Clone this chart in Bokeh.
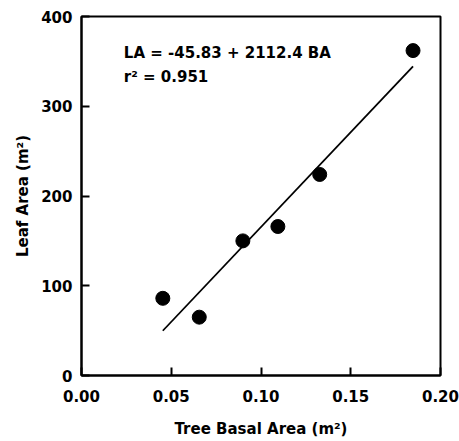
from bokeh.plotting import figure
from bokeh.models import Range1d, FixedTicker, Label
from bokeh.embed import file_html
from bokeh.resources import INLINE

# Data
basal_area = [0.0453, 0.0656, 0.0899, 0.1094, 0.1327, 0.1847]
leaf_area = [86, 65, 150, 166, 224, 362]

intercept = -45.83
slope = 2112.4
equation_text = "LA = -45.83 + 2112.4 BA"
r2_text = "r\u00b2 = 0.951"

x_ticks = [0.0, 0.05, 0.10, 0.15, 0.20]
x_tick_labels = ["0.00", "0.05", "0.10", "0.15", "0.20"]
y_ticks = [0, 100, 200, 300, 400]
y_tick_labels = ["0", "100", "200", "300", "400"]

FONT = "DejaVu Sans"

W, H = 459, 441
FL, FT, FW, FH = 81, 16, 359, 359
p = figure(width=W, height=H, output_backend="svg", toolbar_location=None,
           x_range=Range1d(0, 0.2), y_range=Range1d(0, 400),
           min_border_left=FL, min_border_right=W - FL - FW,
           min_border_top=FT, min_border_bottom=H - FT - FH)
p.xgrid.visible = False
p.ygrid.visible = False
p.outline_line_color = "black"
p.outline_line_width = 2

for ax in (p.xaxis[0], p.yaxis[0]):
    ax.axis_line_width = 2
    ax.major_tick_line_width = 2
    ax.major_tick_in = 8
    ax.major_tick_out = 0
    ax.minor_tick_line_color = None
    ax.major_label_text_font = FONT
    ax.major_label_text_font_style = "bold"
    ax.major_label_text_font_size = "15px"
    ax.major_label_text_color = "black"
    ax.axis_label_text_font = FONT
    ax.axis_label_text_font_style = "bold"
    ax.axis_label_text_font_size = "15px"
    ax.axis_label_text_color = "black"

p.xaxis.ticker = FixedTicker(ticks=x_ticks)
p.xaxis.major_label_overrides = {t: l for t, l in zip(x_ticks, x_tick_labels)}
p.yaxis.ticker = FixedTicker(ticks=y_ticks)
p.yaxis.major_label_overrides = {t: l for t, l in zip(y_ticks, y_tick_labels)}
p.xaxis.axis_label = "Tree Basal Area (m\u00b2)"
p.yaxis.axis_label = "Leaf Area (m\u00b2)"
p.xaxis.major_label_standoff = 14
p.xaxis.axis_label_standoff = 15
p.yaxis.major_label_standoff = 9
p.yaxis.axis_label_standoff = 6

# regression line over the data range
x0, x1 = min(basal_area), max(basal_area)
p.line([x0, x1], [intercept + slope * x0, intercept + slope * x1],
       line_color="black", line_width=1.8)

p.scatter(basal_area, leaf_area, size=14, marker="circle",
          fill_color="black", line_color="black")

p.add_layout(Label(x=0.0236, y=359, text=equation_text, text_font=FONT,
                   text_font_style="bold", text_font_size="15px",
                   text_baseline="alphabetic", text_color="black"))
p.add_layout(Label(x=0.0236, y=333, text=r2_text, text_font=FONT,
                   text_font_style="bold", text_font_size="15px",
                   text_baseline="alphabetic", text_color="black"))

open("out.html", "w").write(file_html(p, INLINE))
